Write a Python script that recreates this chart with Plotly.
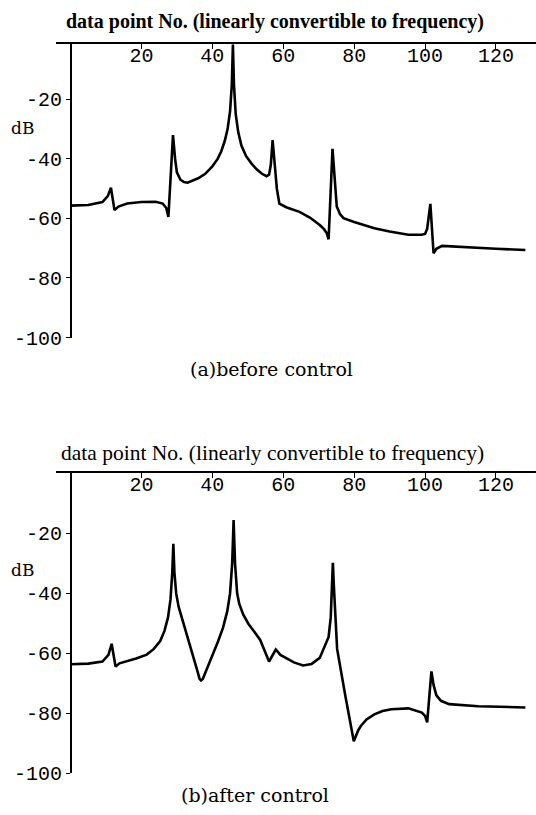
import plotly.graph_objects as go

W, H = 536, 815

# ---- data (a) before control ----
x_before = [0, 5, 9, 10.5, 11.4, 12.4, 13.5, 16, 20, 24, 26, 27, 27.6, 28.9, 29.5, 30, 31, 32,
            33, 36, 38, 40, 41.5, 42.5, 43.5, 44.3, 45, 45.5, 45.8, 46.1, 46.6, 47.3, 48.2,
            49.5, 51, 52.5, 54, 55.3, 56, 56.5, 57, 57.5, 58.2, 58.9, 61, 64.6, 67.5, 70.3,
            71.5, 72.3, 72.8, 73.9, 74.5, 75.1, 76, 77, 80, 85.7, 90, 95.3, 99, 100, 100.6,
            101.5, 102.4, 103.2, 104.8, 110, 120, 128.3]
y_before = [-55.7, -55.5, -54.5, -52.5, -49.7, -57.2, -56, -55, -54.5, -54.4, -55, -56.5, -59.5,
            -32, -40, -44.5, -47, -47.8, -48, -46.5, -45, -42.5, -40, -37.5, -34, -30, -24, -15,
            -1.5, -15, -25, -31, -35.5, -39, -41.5, -43.5, -45, -45.8, -45.3, -42, -33.7, -40,
            -50, -55, -56.3, -57.8, -59.7, -62.2, -63.6, -65, -67, -36.6, -48, -56, -58.5,
            -59.9, -61.2, -63.3, -64.4, -65.5, -65.5, -65.2, -63.5, -55.1, -71.7, -70.2, -69.2,
            -69.6, -70.2, -70.6]

# ---- data (b) after control ----
x_after = [0, 5, 9, 10.7, 11.6, 12.7, 13.8, 15.7, 18.5, 21.5, 23.5, 25.3, 26.5, 27.5, 28.2,
           28.7, 29, 29.3, 29.8, 30.5, 31.5, 33, 34.5, 35.7, 36.4, 36.8, 37.3, 38, 39.7, 41.6,
           43, 44.2, 45, 45.6, 46, 46.4, 47, 47.6, 48.7, 50.2, 52, 53.5, 56, 57.9, 59.2, 60.8,
           63, 65.6, 68, 70.3, 72, 72.8, 73.4, 73.8, 74, 74.3, 74.8, 75.2, 77.5, 79.9, 80.5,
           81.2, 82, 83.5, 85.7, 88, 90.5, 95.3, 99.1, 100, 100.6, 101.8, 102.4, 103.2, 104.5,
           106.8, 115, 128.3]
y_after = [-63.6, -63.4, -62.7, -60.5, -56.8, -64.4, -63.3, -62.7, -61.7, -60.4, -58.5, -55.9,
           -52.5, -48, -42, -33, -23.5, -33, -40, -44.5, -48.5, -54, -60, -65.5, -68.5, -69,
           -68.5, -66.5, -61.5, -56, -51.5, -46, -40, -30, -15.6, -30, -40, -43.5, -47, -50.2,
           -53, -55.5, -62.7, -58.7, -60.5, -61.5, -63, -64, -63.5, -61.5, -57, -54.5, -48,
           -36, -29.8, -38, -52, -58.5, -74, -89.3, -87.5, -85.5, -84, -82, -80.3, -79.2,
           -78.6, -78.3, -79.7, -80.8, -83, -66, -70.5, -74, -75.8, -76.9, -77.6, -78]

x_ticks = [20, 40, 60, 80, 100, 120]
y_ticks = [-20, -40, -60, -80, -100]
y_ticktext = ["-20", "-40", "-60", "-80", "-100"]

axis_title = "data point No. (linearly convertible to frequency)"
captions = ["(a)before control", "(b)after control"]


def px_x(p):
    return p / W


def px_y(p):
    return 1 - p / H


fig = go.Figure()
fig.add_trace(go.Scatter(x=x_before, y=y_before, mode="lines",
                         line=dict(color="black", width=2.6), xaxis="x", yaxis="y",
                         showlegend=False, hoverinfo="skip"))
fig.add_trace(go.Scatter(x=x_after, y=y_after, mode="lines",
                         line=dict(color="black", width=2.6), xaxis="x2", yaxis="y2",
                         showlegend=False, hoverinfo="skip"))

tickfont = dict(family="Liberation Mono", size=20, color="black")
xdom = [px_x(56), 1.0]
xr = [-4.1, 131.3]

common_x = dict(range=xr, domain=xdom, side="top", showline=True, linecolor="black",
                linewidth=1.6, ticks="inside", ticklen=5, tickwidth=1.3, tickcolor="black",
                ticklabelposition="inside", tickvals=x_ticks, tickfont=tickfont,
                showgrid=False, zeroline=False, fixedrange=True)
common_y = dict(anchor="free", position=px_x(70.9), showline=True, linecolor="black",
                linewidth=2, ticks="outside", ticklen=4, tickwidth=1.3, tickcolor="black",
                tickvals=y_ticks, ticktext=y_ticktext, tickfont=tickfont,
                showgrid=False, zeroline=False, fixedrange=True)

fig.update_layout(
    width=W, height=H, margin=dict(l=0, r=0, t=0, b=0),
    paper_bgcolor="white", plot_bgcolor="white",
    xaxis=dict(anchor="y", **common_x),
    yaxis=dict(domain=[px_y(343), px_y(45)], range=[-100, -1.5], **common_y),
    xaxis2=dict(anchor="y2", **common_x),
    yaxis2=dict(domain=[px_y(786), px_y(481)], range=[-100, 0], **common_y),
)

ann = []
ann.append(dict(text="<b>" + axis_title + "</b>", x=px_x(275), y=px_y(22), xref="paper",
                yref="paper", showarrow=False, xanchor="center", yanchor="middle",
                font=dict(family="Liberation Serif", size=20, color="black")))
ann.append(dict(text=axis_title, x=px_x(272), y=px_y(460), xref="paper",
                yref="paper", showarrow=False, xanchor="center", yanchor="middle",
                font=dict(family="Liberation Serif", size=21.5, color="black")))
for ypix in (130, 579):
    ann.append(dict(text="dB", x=px_x(22.5), y=px_y(ypix), xref="paper", yref="paper",
                    showarrow=False, xanchor="center", yanchor="middle",
                    font=dict(family="DejaVu Serif", size=17, color="black")))
ann.append(dict(text=captions[0], x=px_x(271), y=px_y(375), xref="paper", yref="paper",
                showarrow=False, xanchor="center", yanchor="middle",
                font=dict(family="DejaVu Serif", size=19, color="black")))
ann.append(dict(text=captions[1], x=px_x(255), y=px_y(808), xref="paper", yref="paper",
                showarrow=False, xanchor="center", yanchor="middle",
                font=dict(family="DejaVu Serif", size=19, color="black")))
fig.update_layout(annotations=ann)

fig.write_html("out.html")
